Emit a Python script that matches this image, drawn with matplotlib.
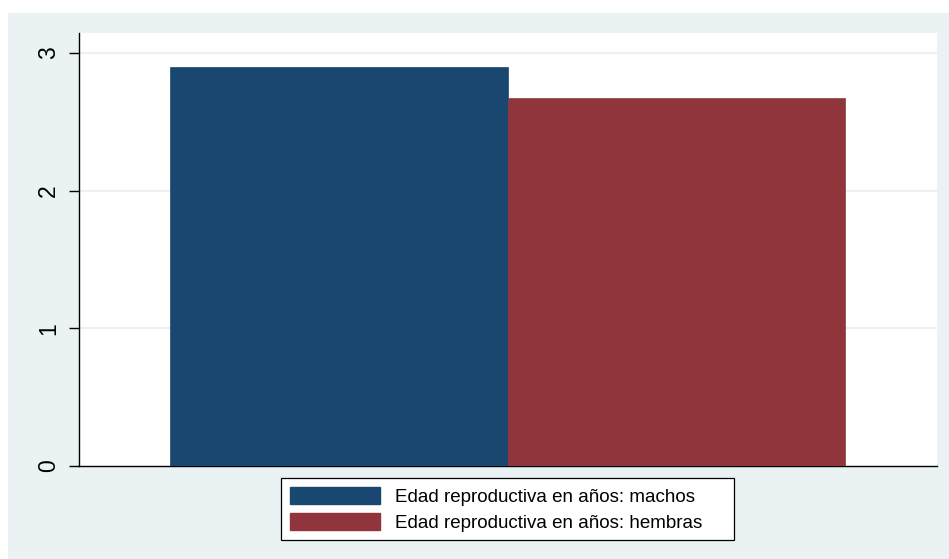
import matplotlib.pyplot as plt
from matplotlib.patches import Rectangle, Patch

plt.rcParams['font.family'] = ['Liberation Sans', 'DejaVu Sans']

labels = ["Edad reproductiva en años: machos", "Edad reproductiva en años: hembras"]
values = [2.9, 2.67]
colors = ["#1a476f", "#90353b"]
yticks = [0, 1, 2, 3]

W, H = 949, 559
fig = plt.figure(figsize=(W / 100, H / 100), dpi=100)
fig.patch.set_facecolor("white")

# light outer panel (Stata style)
fig.add_artist(Rectangle((8 / W, 0), 1 - 8 / W, 1 - 13 / H, transform=fig.transFigure,
                         facecolor="#eaf2f3", edgecolor="none", zorder=0))

ax = fig.add_axes([79 / W, 1 - 466 / H, (937 - 79) / W, (466 - 33) / H])
ax.set_facecolor("white")

width = 0.393
positions = [0.303, 0.696]
for pos, val, col, lab in zip(positions, values, colors, labels):
    ax.bar(pos, val, width=width, color=col, edgecolor=col, linewidth=0.5, label=lab, zorder=3)

ax.set_xlim(0, 1)
ax.set_ylim(0, 3.145)
ax.set_xticks([])
ax.set_yticks(yticks)
ax.set_yticklabels([str(t) for t in yticks], rotation=90, va="center", fontsize=16.5)
ax.tick_params(axis="y", length=7.5, width=1, pad=6)
for t in yticks[1:]:
    ax.axhline(t, color="#eaf2f3", linewidth=1.5, zorder=1)

ax.spines["top"].set_visible(False)
ax.spines["right"].set_visible(False)
ax.spines["left"].set_linewidth(1)
ax.spines["bottom"].set_linewidth(1)

# legend box drawn separately (wider right padding like the original)
fig.add_artist(Rectangle((281 / W, 1 - 540 / H), (734 - 281) / W, (540 - 478) / H,
                         transform=fig.transFigure, facecolor="white",
                         edgecolor="black", linewidth=0.9, zorder=1))
handles = [Patch(facecolor=c, edgecolor=c) for c in colors]
leg = fig.legend(handles, labels, loc="center left", bbox_to_anchor=(290 / W, 1 - 509.5 / H),
                 fontsize=13.5, frameon=False,
                 handlelength=4.8, handleheight=1.0, labelspacing=0.4,
                 handletextpad=0.8, borderpad=0, borderaxespad=0)
leg.set_zorder(2)

fig.savefig("out.png", dpi=100)
